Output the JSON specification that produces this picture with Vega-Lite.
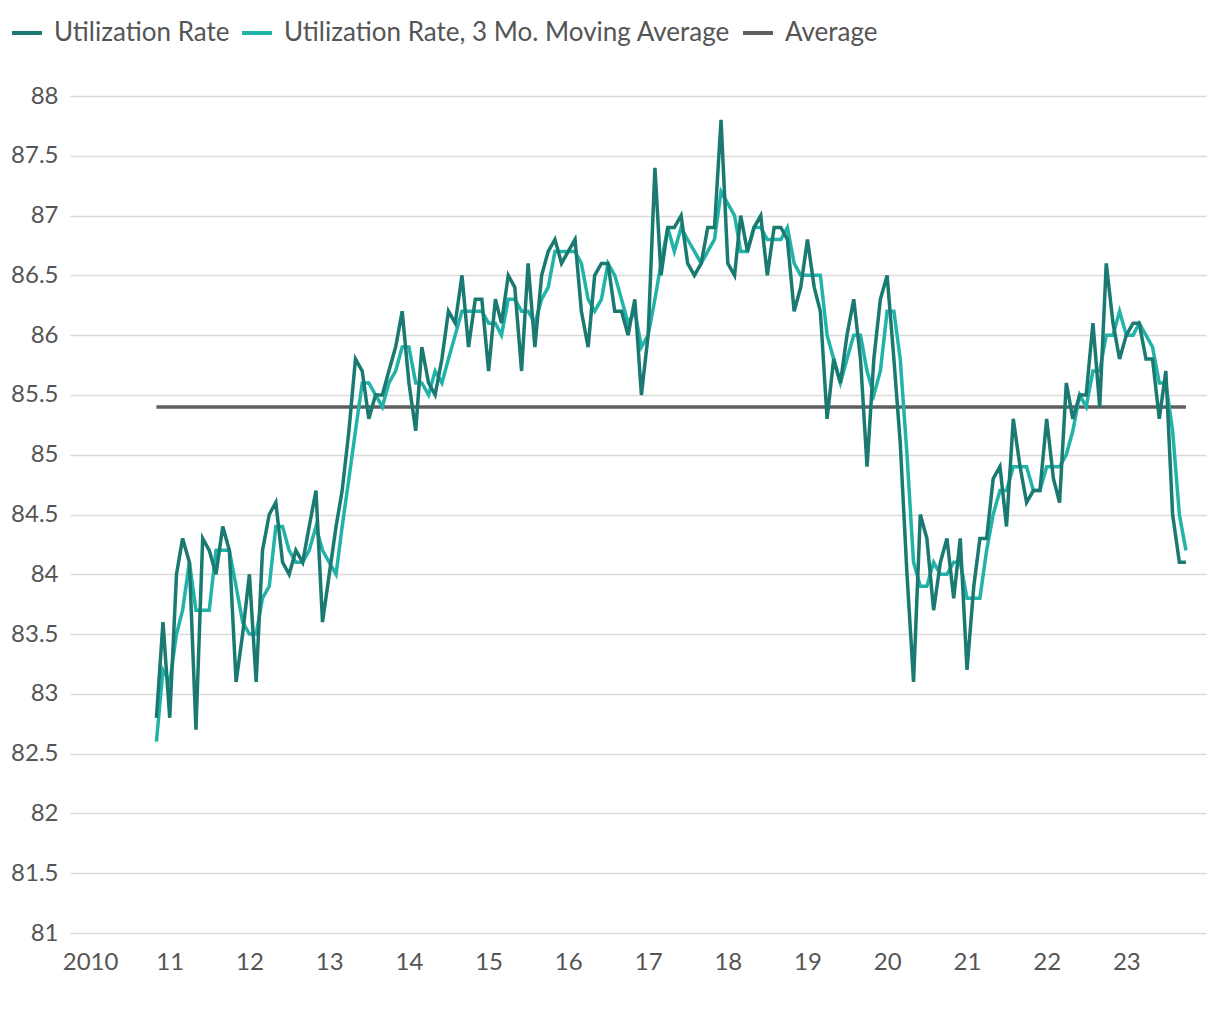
{
  "$schema": "https://vega.github.io/schema/vega-lite/v6.json",
  "width": 1136,
  "height": 837,
  "autosize": {"type": "none"},
  "padding": {"left": 70, "top": 96, "right": 14, "bottom": 87},
  "config": {
    "font": "Lato",
    "view": {"stroke": null},
    "axis": {"labelFont": "Lato", "labelFontSize": 24, "labelColor": "#555555", "ticks": false, "domain": false, "title": null},
    "legend": {"labelFont": "Lato", "labelFontSize": 26, "labelColor": "#555555"}
  },
  "data": {"values": [
    {"d":"2010-11-01","u":82.8,"m":82.6},{"d":"2010-12-01","u":83.6,"m":83.2},
    {"d":"2011-01-01","u":82.8,"m":83.1},{"d":"2011-02-01","u":84.0,"m":83.5},{"d":"2011-03-01","u":84.3,"m":83.7},{"d":"2011-04-01","u":84.1,"m":84.1},{"d":"2011-05-01","u":82.7,"m":83.7},{"d":"2011-06-01","u":84.3,"m":83.7},{"d":"2011-07-01","u":84.2,"m":83.7},{"d":"2011-08-01","u":84.0,"m":84.2},{"d":"2011-09-01","u":84.4,"m":84.2},{"d":"2011-10-01","u":84.2,"m":84.2},{"d":"2011-11-01","u":83.1,"m":83.9},{"d":"2011-12-01","u":83.5,"m":83.6},
    {"d":"2012-01-01","u":84.0,"m":83.5},{"d":"2012-02-01","u":83.1,"m":83.5},{"d":"2012-03-01","u":84.2,"m":83.8},{"d":"2012-04-01","u":84.5,"m":83.9},{"d":"2012-05-01","u":84.6,"m":84.4},{"d":"2012-06-01","u":84.1,"m":84.4},{"d":"2012-07-01","u":84.0,"m":84.2},{"d":"2012-08-01","u":84.2,"m":84.1},{"d":"2012-09-01","u":84.1,"m":84.1},{"d":"2012-10-01","u":84.4,"m":84.2},{"d":"2012-11-01","u":84.7,"m":84.4},{"d":"2012-12-01","u":83.6,"m":84.2},
    {"d":"2013-01-01","u":84.0,"m":84.1},{"d":"2013-02-01","u":84.4,"m":84.0},{"d":"2013-03-01","u":84.7,"m":84.4},{"d":"2013-04-01","u":85.2,"m":84.8},{"d":"2013-05-01","u":85.8,"m":85.2},{"d":"2013-06-01","u":85.7,"m":85.6},{"d":"2013-07-01","u":85.3,"m":85.6},{"d":"2013-08-01","u":85.5,"m":85.5},{"d":"2013-09-01","u":85.5,"m":85.4},{"d":"2013-10-01","u":85.7,"m":85.6},{"d":"2013-11-01","u":85.9,"m":85.7},{"d":"2013-12-01","u":86.2,"m":85.9},
    {"d":"2014-01-01","u":85.6,"m":85.9},{"d":"2014-02-01","u":85.2,"m":85.6},{"d":"2014-03-01","u":85.9,"m":85.6},{"d":"2014-04-01","u":85.6,"m":85.5},{"d":"2014-05-01","u":85.5,"m":85.7},{"d":"2014-06-01","u":85.8,"m":85.6},{"d":"2014-07-01","u":86.2,"m":85.8},{"d":"2014-08-01","u":86.1,"m":86.0},{"d":"2014-09-01","u":86.5,"m":86.2},{"d":"2014-10-01","u":85.9,"m":86.2},{"d":"2014-11-01","u":86.3,"m":86.2},{"d":"2014-12-01","u":86.3,"m":86.2},
    {"d":"2015-01-01","u":85.7,"m":86.1},{"d":"2015-02-01","u":86.3,"m":86.1},{"d":"2015-03-01","u":86.1,"m":86.0},{"d":"2015-04-01","u":86.5,"m":86.3},{"d":"2015-05-01","u":86.4,"m":86.3},{"d":"2015-06-01","u":85.7,"m":86.2},{"d":"2015-07-01","u":86.6,"m":86.2},{"d":"2015-08-01","u":85.9,"m":86.1},{"d":"2015-09-01","u":86.5,"m":86.3},{"d":"2015-10-01","u":86.7,"m":86.4},{"d":"2015-11-01","u":86.8,"m":86.7},{"d":"2015-12-01","u":86.6,"m":86.7},
    {"d":"2016-01-01","u":86.7,"m":86.7},{"d":"2016-02-01","u":86.8,"m":86.7},{"d":"2016-03-01","u":86.2,"m":86.6},{"d":"2016-04-01","u":85.9,"m":86.3},{"d":"2016-05-01","u":86.5,"m":86.2},{"d":"2016-06-01","u":86.6,"m":86.3},{"d":"2016-07-01","u":86.6,"m":86.6},{"d":"2016-08-01","u":86.2,"m":86.5},{"d":"2016-09-01","u":86.2,"m":86.3},{"d":"2016-10-01","u":86.0,"m":86.1},{"d":"2016-11-01","u":86.3,"m":86.2},{"d":"2016-12-01","u":85.5,"m":85.9},
    {"d":"2017-01-01","u":86.0,"m":86.0},{"d":"2017-02-01","u":87.4,"m":86.3},{"d":"2017-03-01","u":86.5,"m":86.6},{"d":"2017-04-01","u":86.9,"m":86.9},{"d":"2017-05-01","u":86.9,"m":86.7},{"d":"2017-06-01","u":87.0,"m":86.9},{"d":"2017-07-01","u":86.6,"m":86.8},{"d":"2017-08-01","u":86.5,"m":86.7},{"d":"2017-09-01","u":86.6,"m":86.6},{"d":"2017-10-01","u":86.9,"m":86.7},{"d":"2017-11-01","u":86.9,"m":86.8},{"d":"2017-12-01","u":87.8,"m":87.2},
    {"d":"2018-01-01","u":86.6,"m":87.1},{"d":"2018-02-01","u":86.5,"m":87.0},{"d":"2018-03-01","u":87.0,"m":86.7},{"d":"2018-04-01","u":86.7,"m":86.7},{"d":"2018-05-01","u":86.9,"m":86.9},{"d":"2018-06-01","u":87.0,"m":86.9},{"d":"2018-07-01","u":86.5,"m":86.8},{"d":"2018-08-01","u":86.9,"m":86.8},{"d":"2018-09-01","u":86.9,"m":86.8},{"d":"2018-10-01","u":86.8,"m":86.9},{"d":"2018-11-01","u":86.2,"m":86.6},{"d":"2018-12-01","u":86.4,"m":86.5},
    {"d":"2019-01-01","u":86.8,"m":86.5},{"d":"2019-02-01","u":86.4,"m":86.5},{"d":"2019-03-01","u":86.2,"m":86.5},{"d":"2019-04-01","u":85.3,"m":86.0},{"d":"2019-05-01","u":85.8,"m":85.8},{"d":"2019-06-01","u":85.6,"m":85.6},{"d":"2019-07-01","u":86.0,"m":85.8},{"d":"2019-08-01","u":86.3,"m":86.0},{"d":"2019-09-01","u":85.8,"m":86.0},{"d":"2019-10-01","u":84.9,"m":85.7},{"d":"2019-11-01","u":85.8,"m":85.5},{"d":"2019-12-01","u":86.3,"m":85.7},
    {"d":"2020-01-01","u":86.5,"m":86.2},{"d":"2020-02-01","u":85.8,"m":86.2},{"d":"2020-03-01","u":85.1,"m":85.8},{"d":"2020-04-01","u":84.0,"m":85.0},{"d":"2020-05-01","u":83.1,"m":84.1},{"d":"2020-06-01","u":84.5,"m":83.9},{"d":"2020-07-01","u":84.3,"m":83.9},{"d":"2020-08-01","u":83.7,"m":84.1},{"d":"2020-09-01","u":84.1,"m":84.0},{"d":"2020-10-01","u":84.3,"m":84.0},{"d":"2020-11-01","u":83.8,"m":84.1},{"d":"2020-12-01","u":84.3,"m":84.1},
    {"d":"2021-01-01","u":83.2,"m":83.8},{"d":"2021-02-01","u":83.9,"m":83.8},{"d":"2021-03-01","u":84.3,"m":83.8},{"d":"2021-04-01","u":84.3,"m":84.2},{"d":"2021-05-01","u":84.8,"m":84.5},{"d":"2021-06-01","u":84.9,"m":84.7},{"d":"2021-07-01","u":84.4,"m":84.7},{"d":"2021-08-01","u":85.3,"m":84.9},{"d":"2021-09-01","u":84.9,"m":84.9},{"d":"2021-10-01","u":84.6,"m":84.9},{"d":"2021-11-01","u":84.7,"m":84.7},{"d":"2021-12-01","u":84.7,"m":84.7},
    {"d":"2022-01-01","u":85.3,"m":84.9},{"d":"2022-02-01","u":84.8,"m":84.9},{"d":"2022-03-01","u":84.6,"m":84.9},{"d":"2022-04-01","u":85.6,"m":85.0},{"d":"2022-05-01","u":85.3,"m":85.2},{"d":"2022-06-01","u":85.5,"m":85.5},{"d":"2022-07-01","u":85.5,"m":85.4},{"d":"2022-08-01","u":86.1,"m":85.7},{"d":"2022-09-01","u":85.4,"m":85.7},{"d":"2022-10-01","u":86.6,"m":86.0},{"d":"2022-11-01","u":86.1,"m":86.0},{"d":"2022-12-01","u":85.8,"m":86.2},
    {"d":"2023-01-01","u":86.0,"m":86.0},{"d":"2023-02-01","u":86.1,"m":86.0},{"d":"2023-03-01","u":86.1,"m":86.1},{"d":"2023-04-01","u":85.8,"m":86.0},{"d":"2023-05-01","u":85.8,"m":85.9},{"d":"2023-06-01","u":85.3,"m":85.6},{"d":"2023-07-01","u":85.7,"m":85.6},{"d":"2023-08-01","u":84.5,"m":85.2},{"d":"2023-09-01","u":84.1,"m":84.5},{"d":"2023-10-01","u":84.1,"m":84.2}
  ]},
  "encoding": {
    "x": {
      "field": "d", "type": "temporal",
      "scale": {"type": "utc", "domain": [{"year": 2009, "month": 10, "date": 1, "utc": true}, {"year": 2024, "month": 1, "date": 1, "utc": true}]},
      "axis": {
        "grid": false, "labelPadding": 17, "labelFlush": false, "labelOverlap": false,
        "values": [{"year":2010,"utc":true},{"year":2011,"utc":true},{"year":2012,"utc":true},{"year":2013,"utc":true},{"year":2014,"utc":true},{"year":2015,"utc":true},{"year":2016,"utc":true},{"year":2017,"utc":true},{"year":2018,"utc":true},{"year":2019,"utc":true},{"year":2020,"utc":true},{"year":2021,"utc":true},{"year":2022,"utc":true},{"year":2023,"utc":true}],
        "labelExpr": "utcyear(datum.value) == 2010 ? '2010' : utcFormat(datum.value, '%y')"
      }
    }
  },
  "layer": [
    {
      "data": {"values": [{"d":"2010-11-01","avg":85.4},{"d":"2023-10-01","avg":85.4}]},
      "mark": {"type": "line", "strokeWidth": 3.5},
      "encoding": {
        "y": {"field": "avg", "type": "quantitative"},
        "color": {"datum": "Average"}
      }
    },
    {
      "mark": {"type": "line", "strokeWidth": 3.5},
      "encoding": {
        "y": {"field": "m", "type": "quantitative"},
        "color": {"datum": "Utilization Rate, 3 Mo. Moving Average"}
      }
    },
    {
      "mark": {"type": "line", "strokeWidth": 3.5},
      "encoding": {
        "y": {
          "field": "u", "type": "quantitative",
          "scale": {"domain": [81, 88], "nice": false, "zero": false},
          "axis": {"values": [81,81.5,82,82.5,83,83.5,84,84.5,85,85.5,86,86.5,87,87.5,88], "format": ".1~f", "grid": true, "gridColor": "#dadada", "gridWidth": 1.5, "labelPadding": 12}
        },
        "color": {
          "datum": "Utilization Rate",
          "type": "nominal",
          "scale": {"domain": ["Utilization Rate", "Utilization Rate, 3 Mo. Moving Average", "Average"], "range": ["#1a7a72", "#22b3a8", "#5e5e5e"]},
          "legend": {
            "title": null, "orient": "none", "direction": "horizontal",
            "legendX": -60, "legendY": -80, "padding": 0,
            "symbolType": "stroke", "symbolSize": 900, "symbolStrokeWidth": 4,
            "labelOffset": 10, "columnPadding": 4, "labelLimit": 700
          }
        }
      }
    }
  ]
}
